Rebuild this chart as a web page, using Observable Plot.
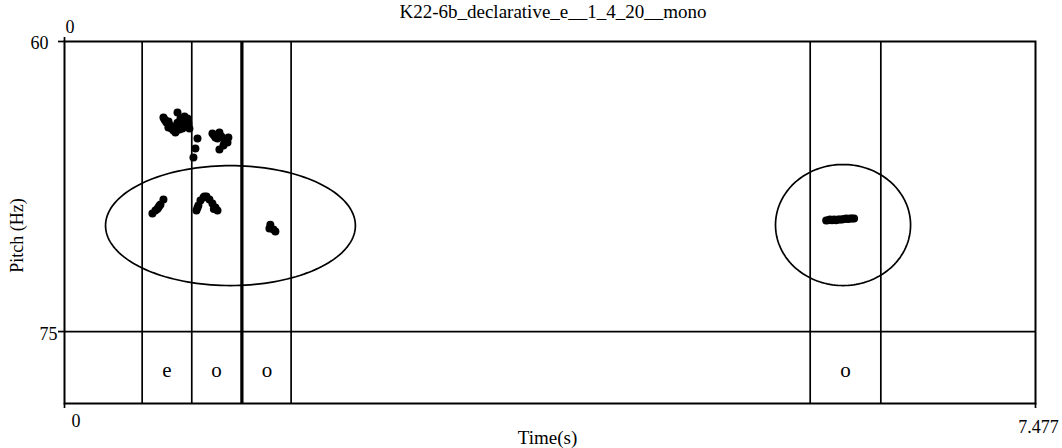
<!DOCTYPE html>
<html><head><meta charset="utf-8">
<script src="https://cdn.jsdelivr.net/npm/d3@7"></script>
<script src="https://cdn.jsdelivr.net/npm/@observablehq/plot@0.6"></script>
<style>body{margin:0;background:#fff} svg text{font-family:'Liberation Serif','Times New Roman',serif}</style>
</head><body><div id="chart"></div>
<script>
const title = "K22-6b_declarative_e__1_4_20__mono";
const xLabel = "Time(s)";
const yLabel = "Pitch (Hz)";
const xDomain = [0, 7.477];
const yDomain = [60, 78.72];
const yTicks = [60, 75];
const xTickLabels = ["0", "7.477"];

// pitch points (time s, pitch)
const pitchTimes = [
  0.770, 0.785, 0.816, 0.839, 0.854, 0.870, 0.893, 0.916, 0.862, 0.908, 0.947, 0.954, 0.962, 0.931, 0.762, 0.777, 0.800, 0.885, 0.924, 0.827, 0.846, 0.900,
  0.801, 0.824, 0.885, 0.924, 0.939, 0.870, 0.862,
  1.024, 1.008, 0.993,
  1.139, 1.162, 1.193, 1.178, 1.262, 1.255, 1.224, 1.193, 1.239, 1.208, 1.150, 1.247, 1.231,
  0.762, 0.739, 0.723, 0.700, 0.677, 0.731, 0.715,
  1.016, 1.031, 1.047, 1.070, 1.093, 1.116, 1.139, 1.162, 1.178, 1.024, 1.077, 1.150,
  1.585, 1.578, 1.609, 1.624,
  5.865, 5.880, 5.895, 5.910, 5.926, 5.941, 5.957, 5.972, 5.988, 6.003, 6.019, 6.034, 6.049, 6.065, 6.080
];
const pitchValues = [
  64.03, 64.19, 64.34, 64.60, 64.71, 63.67, 63.98, 64.09, 64.50, 64.50, 63.98, 64.24, 64.50, 64.40, 63.93, 64.09, 64.45, 64.55, 64.34, 64.50, 64.45, 64.30,
  64.14, 64.50, 64.29, 63.88, 64.19, 64.20, 64.60,
  65.02, 65.53, 66.00,
  64.76, 64.97, 64.71, 65.02, 64.97, 65.22, 65.38, 65.59, 65.17, 64.91, 64.85, 65.10, 65.25,
  68.17, 68.43, 68.59, 68.74, 68.90, 68.50, 68.66,
  68.74, 68.48, 68.22, 68.07, 68.02, 68.17, 68.38, 68.59, 68.74, 68.60, 68.02, 68.66,
  69.47, 69.67, 69.72, 69.83,
  69.26, 69.24, 69.21, 69.24, 69.21, 69.24, 69.21, 69.21, 69.21, 69.18, 69.15, 69.18, 69.15, 69.15, 69.15
];

const boundaries = [0.598, 0.980, 1.360, 1.372, 1.745, 5.742, 6.286];
const tierLabels = ["e", "o", "o", "o"];
const tierStarts = [0.598, 0.980, 1.372, 5.742];
const tierEnds = [0.980, 1.360, 1.745, 6.286];

const ellipseCx = [1.278, 5.995];
const ellipseCy = [69.52, 69.49];
const ellipseRx = [0.962, 0.520];
const ellipseRy = [3.10, 3.13];

const pts = pitchTimes.map((t, i) => ({t, p: pitchValues[i]}));
const ell = [];
ellipseCx.forEach((cx, k) => {
  for (let i = 0; i <= 160; i++) {
    const a = i / 160 * 2 * Math.PI;
    ell.push({k, t: cx + ellipseRx[k] * Math.cos(a), p: ellipseCy[k] + ellipseRy[k] * Math.sin(a)});
  }
});
const tiers = tierLabels.map((s, i) => ({s, mid: (tierStarts[i] + tierEnds[i]) / 2}));
const blank = () => "";
const FF = "'Liberation Serif', 'Times New Roman', serif";
const T = {fontFamily: FF, fontSize: 18, lineAnchor: "middle", fill: "#000"};

const chart = Plot.plot({
  width: 1062, height: 448,
  marginLeft: 64, marginRight: 27, marginTop: 41, marginBottom: 45,
  style: {fontFamily: FF, fontSize: "18px", background: "#fff", color: "#000"},
  x: {domain: xDomain},
  y: {domain: yDomain, reverse: true},
  marks: [
    Plot.ruleX(boundaries, {stroke: "#000", strokeWidth: 1.7}),
    Plot.ruleX([boundaries[2]], {dx: 0.8, stroke: "#000", strokeWidth: 1.7}),
    Plot.ruleY([75], {stroke: "#000", strokeWidth: 1.7}),
    Plot.line(ell, {x: "t", y: "p", z: "k", stroke: "#000", strokeWidth: 1.7}),
    Plot.dot(pts, {x: "t", y: "p", r: 4, fill: "#000", stroke: null}),
    Plot.text(tiers, {...T, x: "mid", y: 77.0, text: "s", fontSize: 21}),
    Plot.frame({stroke: "#000", strokeWidth: 2}),
    Plot.axisY({ticks: yTicks, tickSize: 6, tickFormat: blank, label: null, strokeWidth: 1.7}),
    Plot.axisX({ticks: [0, 7.477], tickSize: 5, tickFormat: blank, label: null, strokeWidth: 1.7}),
    Plot.axisX({anchor: "top", ticks: [0], tickSize: 5, tickFormat: blank, label: null, strokeWidth: 1.7}),
    Plot.text([yTicks[0]], {...T, x: 0, y: d => d, text: d => String(d), textAnchor: "end", dx: -16, dy: 2}),
    Plot.text([yTicks[1]], {...T, x: 0, y: d => d, text: d => String(d), textAnchor: "end", dx: -7, dy: 3}),
    Plot.text([xTickLabels[0]], {...T, x: 0, frameAnchor: "top", text: d => d, textAnchor: "start", dx: 1, dy: -14.5}),
    Plot.text([xTickLabels[0]], {...T, x: 0, frameAnchor: "bottom", text: d => d, dx: 11.5, dy: 17.5}),
    Plot.text([xTickLabels[1]], {...T, x: 7.477, frameAnchor: "bottom", text: d => d, dx: 3, dy: 24}),
    Plot.text([xLabel], {...T, frameAnchor: "bottom", text: d => d, dx: -2.5, dy: 34, fontSize: 19}),
    Plot.text([yLabel], {...T, frameAnchor: "left", textAnchor: "middle", text: d => d, dx: -47, dy: 13, rotate: -90}),
    Plot.text([title], {...T, frameAnchor: "top", text: d => d, dx: 3, dy: -30, fontSize: 19})
  ]
});
document.getElementById("chart").appendChild(chart);
</script>
</body></html>
